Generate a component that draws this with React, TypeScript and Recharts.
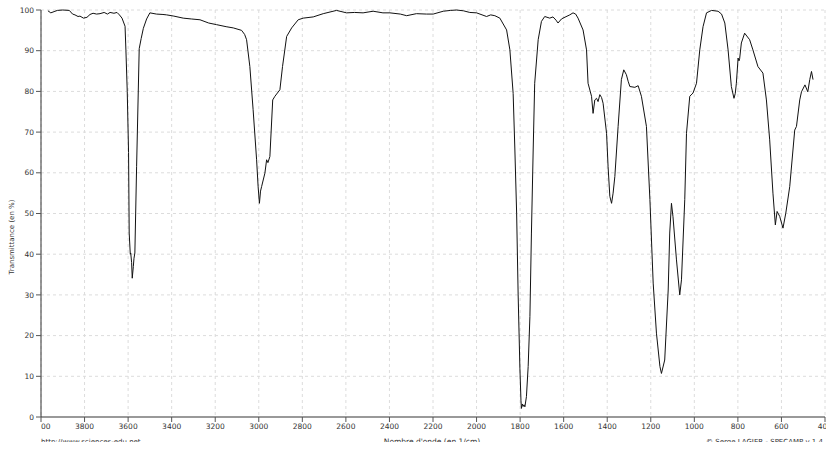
import React from 'react';
import { LineChart, Line, XAxis, YAxis, CartesianGrid } from 'recharts';

const wavenumbers = [
  3968, 3955, 3940, 3925, 3900, 3870, 3855, 3844, 3830, 3821, 3805, 3789, 3775, 3761, 3745, 3729, 3710, 3695, 3683, 3665,
  3651, 3640, 3628, 3614, 3610, 3604, 3598, 3595, 3590, 3588, 3584, 3581, 3576, 3573, 3569, 3561, 3549, 3540, 3530, 3515,
  3500, 3470, 3440, 3423, 3390, 3347, 3310, 3270, 3230, 3194, 3150, 3117, 3079, 3065, 3056, 3041, 3026, 3010, 3003, 2997,
  2992, 2987, 2972, 2964, 2958, 2949, 2936, 2926, 2903, 2891, 2872, 2849, 2819, 2796, 2750, 2704, 2643, 2597, 2560, 2521,
  2475, 2430, 2398, 2350, 2321, 2276, 2230, 2199, 2153, 2120, 2092, 2060, 2031, 2000, 1954, 1935, 1916, 1893, 1862, 1847,
  1832, 1824, 1816, 1809, 1801, 1796, 1794, 1790, 1786, 1782, 1778, 1771, 1763, 1755, 1748, 1740, 1733, 1717, 1702, 1687,
  1664, 1649, 1635, 1626, 1610, 1603, 1572, 1557, 1545, 1534, 1511, 1495, 1488, 1472, 1465, 1457, 1449, 1442, 1434, 1426,
  1419, 1403, 1396, 1388, 1380, 1373, 1365, 1350, 1335, 1324, 1312, 1304, 1296, 1273, 1258, 1243, 1220, 1204, 1189, 1174,
  1158, 1151, 1136, 1120, 1113, 1105, 1098, 1082, 1067, 1059, 1044, 1036, 1021, 1006, 990, 975, 960, 944, 921, 891,
  875, 860, 845, 830, 818, 812, 807, 799, 795, 792, 784, 769, 746, 731, 708, 685, 669, 654, 639, 628,
  620, 608, 593, 580, 562, 539, 531, 516, 508, 492, 479, 470, 462, 455,
];

const transmittance = [
  99.8, 99.3, 99.6, 99.9, 100, 99.9, 99.0, 98.8, 98.4, 98.5, 98.0, 98.2, 98.9, 99.2, 99.0, 99.1, 99.4, 99.0, 99.4, 99.2,
  99.4, 98.8, 98.0, 96.0, 90.0, 80.0, 65.0, 45.2, 40.0, 40.3, 38.0, 34.1, 37.0, 39.0, 40.3, 61.5, 90.5, 93.0, 95.5, 97.8,
  99.3, 99.0, 98.9, 98.8, 98.5, 98.0, 97.8, 97.6, 96.8, 96.4, 95.9, 95.6, 95.0, 94.0, 92.7, 86.1, 75.5, 63.2, 56.6, 52.5,
  55.5, 56.6, 59.9, 63.2, 62.5, 64.0, 77.9, 78.8, 80.4, 86.1, 93.5, 95.6, 97.6, 98.0, 98.3, 99.1, 99.9, 99.3, 99.4, 99.3,
  99.7, 99.3, 99.3, 99.0, 98.6, 99.1, 99.0, 99.0, 99.7, 99.9, 100, 99.8, 99.4, 99.3, 98.4, 98.8, 98.6, 98.0, 95.1, 90.2,
  79.5, 65.6, 50.1, 30.0, 12.0, 4.0, 2.1, 3.2, 2.6, 3.0, 2.5, 5.0, 12.4, 24.7, 45.2, 65.6, 82.0, 92.7, 97.2, 98.4,
  98.0, 98.3, 97.5, 96.8, 97.8, 98.0, 98.8, 99.3, 99.0, 98.0, 95.1, 90.2, 82.0, 78.8, 74.6, 77.9, 78.3, 77.5, 79.2, 78.5,
  77.1, 69.7, 61.5, 54.2, 52.5, 55.0, 59.1, 71.4, 82.9, 85.3, 84.1, 82.5, 81.2, 81.0, 81.4, 78.8, 71.4, 53.4, 32.9, 20.6,
  12.4, 10.7, 14.0, 31.2, 45.2, 52.5, 49.2, 38.6, 30.0, 33.7, 53.4, 69.7, 78.8, 79.6, 82.0, 90.2, 95.9, 99.3, 99.9, 99.7,
  99.0, 96.8, 90.2, 81.2, 78.3, 79.5, 82.0, 88.2, 87.5, 88.0, 91.9, 94.3, 92.7, 90.2, 86.1, 84.5, 77.9, 68.1, 55.0, 47.2,
  50.5, 49.3, 46.4, 50.1, 56.6, 70.5, 71.4, 77.9, 79.9, 81.6, 79.9, 82.9, 84.9, 82.9,
];

const xTicks = [4000, 3800, 3600, 3400, 3200, 3000, 2800, 2600, 2400, 2200, 2000, 1800, 1600, 1400, 1200, 1000, 800, 600, 400];
const yTicks = [0, 10, 20, 30, 40, 50, 60, 70, 80, 90, 100];

const data = wavenumbers.map((wn, i) => ({ wn, t: transmittance[i] }));

const FONT = "'DejaVu Sans', Verdana, sans-serif";

const XTick = (props: any) => {
  const { x, y, payload } = props;
  const clip = payload.value === 4000;
  return (
    <g>
      {clip && (
        <defs>
          <clipPath id="clipFirstTick">
            <rect x={x} y={y - 10} width={40} height={30} />
          </clipPath>
        </defs>
      )}
      <text
        x={x}
        y={y}
        dy={6}
        textAnchor="middle"
        fontSize={7.5}
        fill="#333"
        fontFamily={FONT}
        clipPath={clip ? 'url(#clipFirstTick)' : undefined}
      >
        {payload.value}
      </text>
    </g>
  );
};

export default function App() {
  return (
    <div style={{ position: 'absolute', left: 0, top: 0, width: 826, height: 453, background: '#fff' }}>
      <LineChart width={826} height={453} data={data} margin={{ top: 10, right: 1, bottom: 0, left: 0 }}>
        <CartesianGrid stroke="#dcdcdc" strokeDasharray="3 3" />
        <XAxis
          dataKey="wn"
          type="number"
          domain={[400, 4000]}
          reversed
          ticks={xTicks}
          interval={0}
          height={36}
          tickSize={5}
          tickMargin={1}
          axisLine={{ stroke: '#999', strokeWidth: 2 }}
          tickLine={{ stroke: '#555' }}
          tick={<XTick />}
          allowDataOverflow
        />
        <YAxis
          type="number"
          domain={[0, 100]}
          ticks={yTicks}
          interval={0}
          width={41}
          tickSize={5}
          tickMargin={2}
          axisLine={{ stroke: '#333' }}
          tickLine={{ stroke: '#555' }}
          tick={{ fontSize: 7.5, fill: '#333', fontFamily: FONT }}
        />
        <Line dataKey="t" type="linear" stroke="#111" strokeWidth={1} dot={false} isAnimationActive={false} />
      </LineChart>
      <svg width={826} height={453} style={{ position: 'absolute', left: 0, top: 0, pointerEvents: 'none' }}>
        <defs>
          <clipPath id="clipBottom">
            <rect x={0} y={0} width={826} height={442} />
          </clipPath>
        </defs>
        <text
          x={12}
          y={237}
          transform="rotate(-90, 12, 237)"
          textAnchor="middle"
          dominantBaseline="central"
          fontSize={7}
          fill="#333"
          fontFamily={FONT}
        >
          Transmittance (en %)
        </text>
        <g clipPath="url(#clipBottom)" fontFamily={FONT} fill="#333">
          <text x={41} y={444} fontSize={7}>http://www.sciences-edu.net</text>
          <text x={432} y={444} fontSize={7.5} textAnchor="middle">Nombre d'onde (en 1/cm)</text>
          <text x={706} y={444} fontSize={7}>© Serge LAGIER - SPECAMP v 1.4</text>
        </g>
      </svg>
    </div>
  );
}
